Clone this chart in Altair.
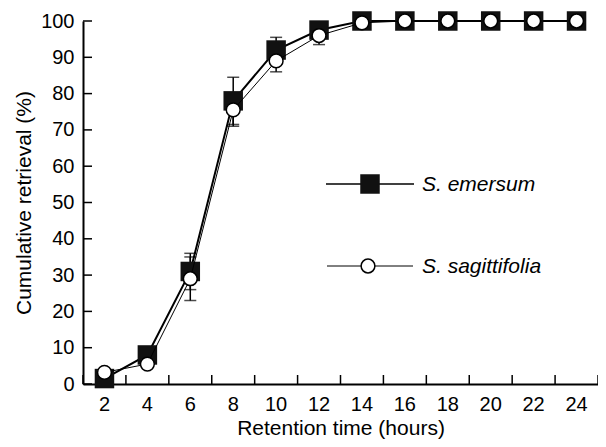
import altair as alt
import pandas as pd

hours = [2, 4, 6, 8, 10, 12, 14, 16, 18, 20, 22, 24]
emersum = [1.5, 8.0, 31.0, 78.0, 92.0, 97.5, 100, 100, 100, 100, 100, 100]
emersum_err = [0, 1.0, 5.0, 6.5, 3.5, 1.5, 0, 0, 0, 0, 0, 0]
sagitt = [3.2, 5.5, 29.0, 75.5, 89.0, 96.0, 99.5, 100, 100, 100, 100, 100]
sagitt_err = [0.5, 1.0, 6.0, 4.5, 3.0, 2.5, 0.5, 0, 0, 0, 0, 0]
y_ticks = list(range(0, 101, 10))
series_names = ["S. emersum", "S. sagittifolia"]

PAD_L, PAD_T = 75, 13
W, H = 515, 363
PAD_B = 431 - PAD_T - H
LFS, TFS = 20, 21

rows = []
for h, v, e in zip(hours, emersum, emersum_err):
    rows.append({"time": h, "value": v, "lo": v - e, "hi": v + e, "series": series_names[0]})
for h, v, e in zip(hours, sagitt, sagitt_err):
    rows.append({"time": h, "value": v, "lo": v - e, "hi": v + e, "series": series_names[1]})
df = pd.DataFrame(rows)
df_e = df[df.series == series_names[0]]
df_s = df[df.series == series_names[1]]
df_e_err = df_e[df_e.hi > df_e.lo]
df_s_err = df_s[df_s.hi > df_s.lo]

FONT = "Liberation Sans"

x_scale = alt.Scale(type="band", paddingInner=0, paddingOuter=0)
x_axis = alt.Axis(labelAngle=0, ticks=False, title="Retention time (hours)")
y_scale = alt.Scale(domain=[0, 100], nice=False)
y_axis = alt.Axis(values=y_ticks, ticks=False, labelOverlap=False, title="Cumulative retrieval (%)")

def X(field="time:O", **kw):
    return alt.X(field, scale=x_scale, axis=x_axis, **kw)

def Y(field):
    return alt.Y(field, scale=y_scale, axis=y_axis)

def errbars(d):
    rule = alt.Chart(d).mark_rule(color="black", strokeWidth=1.5).encode(
        x=X(), y=Y("lo:Q"), y2="hi:Q")
    cap_hi = alt.Chart(d).mark_tick(color="black", thickness=1.5, size=12, orient="horizontal").encode(
        x=X(), y=Y("hi:Q"))
    cap_lo = alt.Chart(d).mark_tick(color="black", thickness=1.5, size=12, orient="horizontal").encode(
        x=X(), y=Y("lo:Q"))
    return rule + cap_hi + cap_lo

line_e = alt.Chart(df_e).mark_line(color="black", strokeWidth=2).encode(x=X(), y=Y("value:Q"))
pts_e = alt.Chart(df_e).mark_point(shape="square", size=380, filled=True, color="#111111", opacity=1).encode(
    x=X(), y=Y("value:Q"))
line_s = alt.Chart(df_s).mark_line(color="black", strokeWidth=1).encode(x=X(), y=Y("value:Q"))
pts_s = alt.Chart(df_s).mark_point(shape="circle", size=190, filled=True, fill="white",
                                   stroke="black", strokeWidth=1.5, opacity=1).encode(
    x=X(), y=Y("value:Q"))

# inward ticks
ytick_df = pd.DataFrame({"v": y_ticks})
yticks = alt.Chart(ytick_df).mark_rule(color="black", strokeWidth=1.5).encode(
    y=Y("v:Q"), x=alt.value(0), x2=alt.value(9))
xtick_df = pd.DataFrame({"time": hours})
xticks = alt.Chart(xtick_df).mark_rule(color="black", strokeWidth=1.5).encode(
    x=X(bandPosition=0), y=alt.value(H), y2=alt.value(H - 9))
xtick_end = alt.Chart(xtick_df.tail(1)).mark_rule(color="black", strokeWidth=1.5).encode(
    x=X(bandPosition=1), y=alt.value(H), y2=alt.value(H - 9))

one = pd.DataFrame({"k": [0]})
leg_line_e = alt.Chart(one).mark_rule(color="black", strokeWidth=1.5).encode(
    x=alt.value(243), x2=alt.value(331), y=alt.value(163))
leg_pt_e = alt.Chart(one).mark_point(shape="square", size=380, filled=True, color="#111111", opacity=1).encode(
    x=alt.value(287), y=alt.value(163))
leg_txt_e = alt.Chart(one).mark_text(text=series_names[0], align="left", baseline="middle",
                                     font=FONT, fontSize=TFS, fontStyle="italic", color="black").encode(
    x=alt.value(339), y=alt.value(164))
leg_line_s = alt.Chart(one).mark_rule(color="black", strokeWidth=1).encode(
    x=alt.value(244), x2=alt.value(330), y=alt.value(245))
leg_pt_s = alt.Chart(one).mark_point(shape="circle", size=190, filled=True, fill="white",
                                     stroke="black", strokeWidth=1.5, opacity=1).encode(
    x=alt.value(285), y=alt.value(245))
leg_txt_s = alt.Chart(one).mark_text(text=series_names[1], align="left", baseline="middle",
                                     font=FONT, fontSize=TFS, fontStyle="italic", color="black").encode(
    x=alt.value(339), y=alt.value(246))

chart = alt.layer(
    line_e, yticks, xticks, xtick_end, errbars(df_e_err), errbars(df_s_err), pts_e, line_s, pts_s,
    leg_line_e, leg_pt_e, leg_txt_e, leg_line_s, leg_pt_s, leg_txt_s
).properties(
    width=W, height=H, background="white",
    autosize=alt.AutoSizeParams(type="none"),
    padding={"left": PAD_L, "top": PAD_T, "right": 0, "bottom": PAD_B}
).configure_view(stroke=None).configure_axis(
    grid=False, domainColor="black", domainWidth=2,
    labelFont=FONT, labelFontSize=LFS, labelColor="black",
    titleFont=FONT, titleFontSize=TFS, titleFontWeight="normal", titleColor="black"
).configure_axisX(titlePadding=3, labelPadding=10).configure_axisY(titlePadding=6, labelPadding=9)

chart.save("out.html", embed_options={"renderer": "svg", "actions": False})
